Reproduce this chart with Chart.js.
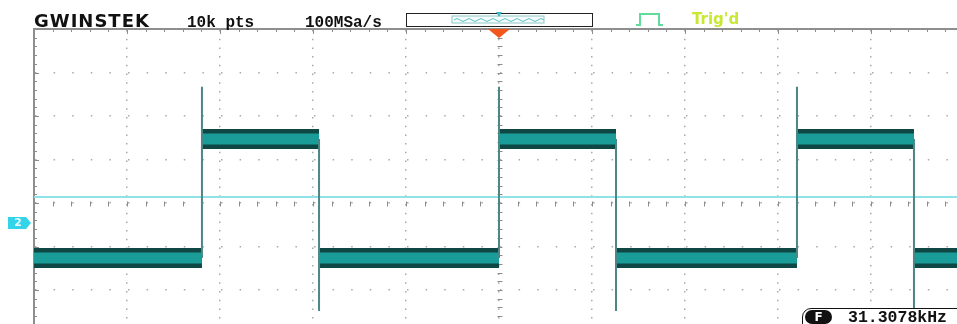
<!DOCTYPE html>
<html><head><meta charset="utf-8">
<script src="https://cdn.jsdelivr.net/npm/chart.js@4.4.1/dist/chart.umd.min.js"></script>
<style>
html,body{margin:0;padding:0;background:#fff;}
#wrap{position:relative;width:957px;height:324px;overflow:hidden;background:#fff;}
canvas{position:absolute;left:0;top:0;}
.t{position:absolute;white-space:nowrap;line-height:1;}
</style></head><body>
<div id="wrap">
<canvas id="c" width="980" height="400"></canvas>
<div class="t" style="left:34px;top:10px;font:bold 18px 'DejaVu Sans';letter-spacing:1px;color:#111">GWINSTEK</div>
<div class="t" style="left:187px;top:14px;font:bold 16px 'Liberation Mono';color:#111">10k pts</div>
<div class="t" style="left:305px;top:14px;font:bold 16px 'Liberation Mono';color:#111">100MSa/s</div>
<div style="position:absolute;left:406px;top:13px;width:187px;height:14px;border:1.5px solid #222;box-sizing:border-box"></div>
<svg style="position:absolute;left:450px;top:10px" width="98" height="16">
  <rect x="2" y="6" width="92" height="7" fill="#f4fbfb" stroke="#8cc8c8" stroke-width="1"/>
  <path d="M4 10 q3 -3 6 0 t6 0 t6 0 t6 0 t6 0 t6 0 t6 0 t6 0 t6 0 t6 0 t6 0 t6 0 t6 0 t6 0 t6 0" fill="none" stroke="#5cc0c8" stroke-width="1"/>
  <path d="M46 2 L52 2 L49 7 Z" fill="#3cb8c8"/>
</svg>
<svg style="position:absolute;left:634px;top:11px" width="32" height="17">
  <polyline points="2,14 6,14 6,3 25,3 25,14 29,14" fill="none" stroke="#62dc9c" stroke-width="2"/>
</svg>
<div class="t" style="left:692px;top:10px;font:bold 15px 'DejaVu Sans';color:#c9e836">Trig'd</div>
<div style="position:absolute;left:802px;top:308px;width:180px;height:30px;border:1.5px solid #111;border-radius:9px;box-sizing:border-box;background:#fff"></div>
<div class="t" style="left:805px;top:310px;width:27px;height:14px;background:#111;border-radius:7px;color:#fff;font:bold 12px 'DejaVu Sans';text-align:center;line-height:14px">F</div>
<div class="t" style="left:848px;top:308px;font:bold 16.5px 'Liberation Mono';color:#111">31.3078kHz</div>
</div>
<script>
// ---- data (in screen divisions) ----
const xTicks = [0,1,2,3,4,5,6,7,8,9,10];
const yTicks = [-4,-3,-2,-1,0,1,2,3,4];
const edgeTimes = [1.806, 3.065, 5.0, 6.258, 8.204, 9.462];
const edgeDirections = ['rise','fall','rise','fall','rise','fall'];
const lowLevel = -1.264;
const highLevel = 1.47;
const overshootPeak = 2.67;
const undershootPeak = -2.48;
const triggerLevel = 0.14;
const groundLevel = -0.46;
const triggerTime = 5.0;
const minorPerDiv = 5;

// build traces from the arrays
const band = [{x: xTicks[0], y: lowLevel}];
let cur = lowLevel;
edgeTimes.forEach((t, i) => {
  const nxt = edgeDirections[i] === 'rise' ? highLevel : lowLevel;
  band.push({x: t, y: cur}, {x: t, y: null}, {x: t, y: nxt});
  cur = nxt;
});
band.push({x: xTicks[xTicks.length - 1], y: cur});

const edges = [];
edgeTimes.forEach((t, i) => {
  if (edgeDirections[i] === 'rise') edges.push({x: t, y: lowLevel}, {x: t, y: overshootPeak});
  else edges.push({x: t, y: highLevel}, {x: t, y: undershootPeak});
  edges.push({x: t, y: null});
});
const trigLine = [{x: xTicks[0], y: triggerLevel}, {x: xTicks[xTicks.length - 1], y: triggerLevel}];

const graticule = {
  id: 'graticule',
  beforeDatasetsDraw(chart) {
    const {ctx, chartArea: a, scales: {x, y}} = chart;
    ctx.save();
    ctx.strokeStyle = '#8c8c8c';
    ctx.lineWidth = 1;
    ctx.beginPath();
    const cy = Math.round(y.getPixelForValue(0)) + 0.5;
    const cx = Math.round(x.getPixelForValue(triggerTime)) + 0.5;
    const nx = (xTicks.length - 1) * minorPerDiv;
    for (let i = 0; i <= nx; i++) {
      const px = Math.round(x.getPixelForValue(xTicks[0] + i / minorPerDiv)) + 0.5;
      const len = i % minorPerDiv === 0 ? 5 : 3;
      ctx.moveTo(px, a.top); ctx.lineTo(px, a.top + len);
      ctx.moveTo(px, cy - 2); ctx.lineTo(px, cy + 3);
    }
    const ny = (yTicks.length - 1) * minorPerDiv;
    for (let j = 0; j <= ny; j++) {
      const py = Math.round(y.getPixelForValue(yTicks[0] + j / minorPerDiv)) + 0.5;
      const len = j % minorPerDiv === 0 ? 5 : 3;
      ctx.moveTo(a.left, py); ctx.lineTo(a.left + len, py);
      ctx.moveTo(cx - 2, py); ctx.lineTo(cx + 3, py);
    }
    ctx.stroke();
    ctx.restore();
  },
  afterDraw(chart) {
    const {ctx, chartArea: a, scales: {x, y}} = chart;
    ctx.save();
    // trigger position marker
    const tx = x.getPixelForValue(triggerTime);
    ctx.fillStyle = '#f2561d';
    ctx.beginPath();
    ctx.moveTo(tx - 11, a.top); ctx.lineTo(tx + 11, a.top); ctx.lineTo(tx, a.top + 9); ctx.closePath();
    ctx.fill();
    // channel 2 ground marker
    const gy = y.getPixelForValue(groundLevel);
    ctx.fillStyle = '#33d4ea';
    ctx.beginPath();
    ctx.moveTo(8, gy - 6); ctx.lineTo(26, gy - 6); ctx.lineTo(31, gy); ctx.lineTo(26, gy + 6); ctx.lineTo(8, gy + 6); ctx.closePath();
    ctx.fill();
    ctx.fillStyle = '#e8fbff';
    ctx.font = 'bold 11px "DejaVu Sans"';
    ctx.textAlign = 'center';
    ctx.textBaseline = 'middle';
    ctx.fillText('2', 18, gy + 0.5);
    ctx.restore();
  }
};

new Chart(document.getElementById('c'), {
  type: 'line',
  data: {
    datasets: [
      {data: edges, borderColor: '#4d8686', borderWidth: 2, spanGaps: false, order: 1},
      {data: band, borderColor: '#1a9d98', borderWidth: 11, borderCapStyle: 'butt', spanGaps: false, order: 2},
      {data: band, borderColor: '#0f4744', borderWidth: 20, borderCapStyle: 'butt', spanGaps: false, order: 3},
      {data: trigLine, borderColor: '#8fe2e6', borderWidth: 2, order: 4}
    ]
  },
  options: {
    responsive: false,
    animation: false,
    devicePixelRatio: 1,
    events: [],
    layout: {padding: {left: 34, top: 29, right: 16, bottom: 23}},
    elements: {point: {radius: 0}, line: {tension: 0}},
    plugins: {legend: {display: false}, tooltip: {enabled: false}},
    scales: {
      x: {
        type: 'linear', position: 'top', min: xTicks[0], max: xTicks[xTicks.length - 1],
        afterBuildTicks: s => { s.ticks = xTicks.map(v => ({value: v})); },
        afterFit: s => { s.height = 0; },
        ticks: {display: false},
        grid: {drawTicks: false, color: '#a9a9a9', lineWidth: 1.5},
        border: {display: true, color: '#8e8e8e', width: 2, dash: [1.5, 7.2]}
      },
      y: {
        type: 'linear', position: 'left', min: yTicks[0], max: yTicks[yTicks.length - 1],
        afterBuildTicks: s => { s.ticks = yTicks.map(v => ({value: v})); },
        afterFit: s => { s.width = 0; },
        ticks: {display: false},
        grid: {drawTicks: false, color: '#a9a9a9', lineWidth: 1.5},
        border: {display: true, color: '#8e8e8e', width: 2, dash: [1.5, 17.1]}
      }
    }
  },
  plugins: [graticule]
});
</script>
</body></html>
